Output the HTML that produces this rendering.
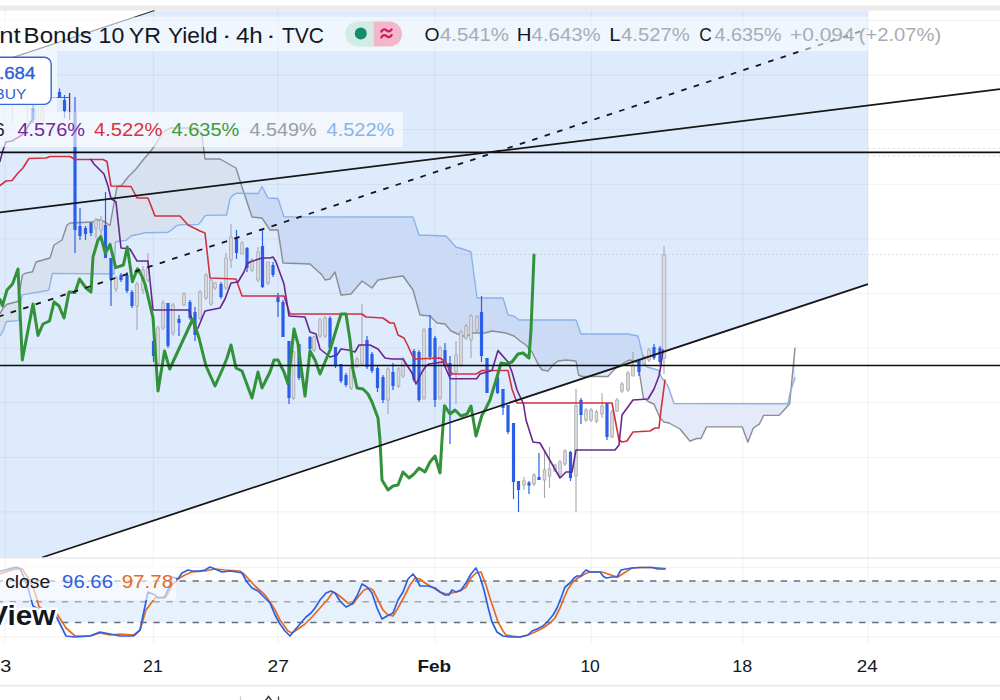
<!DOCTYPE html><html><head><meta charset="utf-8"><style>
html,body{margin:0;padding:0;background:#fff;}
body{width:1000px;height:700px;overflow:hidden;position:relative;font-family:"Liberation Sans",Arial,sans-serif;}
svg{position:absolute;left:0;top:0;display:block}
text{font-family:"Liberation Sans",Arial,sans-serif}
</style></head><body>
<svg width="1000" height="700" viewBox="0 0 1000 700">
<defs>
<clipPath id="pane"><rect x="0" y="10.5" width="1000" height="547.0"/></clipPath>
<clipPath id="aboveL"><polygon points="0,0 0,336 3.4,330 6.4,321.5 18.5,320.6 21.9,294.9 48.9,290.2 52.3,273.4 114,274 115.5,242 120,241 126,240.4 131,236 135,235 145.4,232.8 168.2,232.2 171.8,229.8 176.6,225.6 181.4,224.6 198.2,224.6 200.6,222 205.4,215.4 226.5,215 230,199 233,195 237,193.2 258,193.5 262,186.5 268,198 278,198.5 284,216.8 413,217 419,235 446,236 456,247 466,250 471,252 477,298 503,298 508,315 514,316 519,320 576,320 581,334 628,334 638,336 642,352 644,362 647,367 658,370 662,378 668,386 674,403.5 788,403.8 790,393 795,378 795,0"/></clipPath>
<clipPath id="aboveG"><polygon points="0,0 0,313.7 3.4,307.7 7,304.3 18,301.5 21,283 22.5,275 25,273.4 32.6,271.7 36,262 43,260 50,258 54,245 62,240 67,225 70,223 93,222 96,220 100,220 105,222 110,225.5 114,203 117,187 121.5,185.5 128,177 136,169 143,160 150,152 156,144 162,133 170,128 198,128 202,136 205,159 220,159 236,168 241,184 252,217 262,218 270,230 278,230 283,263 310,264 322,275 325,280 330,279 335,272 341,295 351,294 362,281 372,288 378,280 395,277 403,276 413,290 420,315 430,316 437,323 445,324 451,331 460,335 466,337 472,333 485,333 492,331 506,333 514,336 520,341 526,345 532,352 538,364 542,370 548,371 554,364 558,361 566,360 576,361 578.5,375 582,376.5 608,376.5 612,372 617,367 627,361 630,360 637.8,362.7 643.4,398 649,402 654,404 660,418 664,422 669,423 680,429 690,441.2 696.6,438.5 701,438.5 706.5,426.9 742.3,426.9 747.8,442.3 753.3,428 759.3,424.2 763.7,415.4 779.1,415.4 785.7,408.2 789.6,403.8 795,348 795,0"/></clipPath>
<clipPath id="inchan"><polygon points="0,61.627 868,-225.681 868,284.094 0,571.402"/></clipPath>
<clipPath id="outchan"><polygon points="0,10.5 1000,10.5 1000,557.5 0,557.5 0,571.4 868,284.1 868,-225.7 0,61.6" clip-rule="evenodd"/></clipPath>
</defs>
<rect x="0" y="5.5" width="1000" height="5" fill="#ebebeb"/>
<g clip-path="url(#pane)"><polygon points="0,61.627 868,-225.681 868,284.094 0,571.402" fill="#deebfc"/></g>
<g stroke="#000" stroke-opacity="0.045" stroke-width="1.3">
<line x1="0" y1="20.5" x2="1000" y2="20.5"/>
<line x1="0" y1="75.1" x2="1000" y2="75.1"/>
<line x1="0" y1="129.7" x2="1000" y2="129.7"/>
<line x1="0" y1="184.3" x2="1000" y2="184.3"/>
<line x1="0" y1="238.9" x2="1000" y2="238.9"/>
<line x1="0" y1="293.5" x2="1000" y2="293.5"/>
<line x1="0" y1="348.1" x2="1000" y2="348.1"/>
<line x1="0" y1="402.7" x2="1000" y2="402.7"/>
<line x1="0" y1="457.3" x2="1000" y2="457.3"/>
<line x1="0" y1="511.9" x2="1000" y2="511.9"/>
<line x1="5" y1="10.5" x2="5" y2="643"/>
<line x1="153.5" y1="10.5" x2="153.5" y2="643"/>
<line x1="278" y1="10.5" x2="278" y2="643"/>
<line x1="435" y1="10.5" x2="435" y2="643"/>
<line x1="591.5" y1="10.5" x2="591.5" y2="643"/>
<line x1="743" y1="10.5" x2="743" y2="643"/>
<line x1="868" y1="10.5" x2="868" y2="643"/>
</g>
<g clip-path="url(#pane)">
<g clip-path="url(#aboveL)"><polygon points="0,313.7 3.4,307.7 7,304.3 18,301.5 21,283 22.5,275 25,273.4 32.6,271.7 36,262 43,260 50,258 54,245 62,240 67,225 70,223 93,222 96,220 100,220 105,222 110,225.5 114,203 117,187 121.5,185.5 128,177 136,169 143,160 150,152 156,144 162,133 170,128 198,128 202,136 205,159 220,159 236,168 241,184 252,217 262,218 270,230 278,230 283,263 310,264 322,275 325,280 330,279 335,272 341,295 351,294 362,281 372,288 378,280 395,277 403,276 413,290 420,315 430,316 437,323 445,324 451,331 460,335 466,337 472,333 485,333 492,331 506,333 514,336 520,341 526,345 532,352 538,364 542,370 548,371 554,364 558,361 566,360 576,361 578.5,375 582,376.5 608,376.5 612,372 617,367 627,361 630,360 637.8,362.7 643.4,398 649,402 654,404 660,418 664,422 669,423 680,429 690,441.2 696.6,438.5 701,438.5 706.5,426.9 742.3,426.9 747.8,442.3 753.3,428 759.3,424.2 763.7,415.4 779.1,415.4 785.7,408.2 789.6,403.8 795,348 795,378 790,393 788,403.8 674,403.5 668,386 662,378 658,370 647,367 644,362 642,352 638,336 628,334 581,334 576,320 519,320 514,316 508,315 503,298 477,298 471,252 466,250 456,247 446,236 419,235 413,217 284,216.8 278,198.5 268,198 262,186.5 258,193.5 237,193.2 233,195 230,199 226.5,215 205.4,215.4 200.6,222 198.2,224.6 181.4,224.6 176.6,225.6 171.8,229.8 168.2,232.2 145.4,232.8 135,235 131,236 126,240.4 120,241 115.5,242 114,274 52.3,273.4 48.9,290.2 21.9,294.9 18.5,320.6 6.4,321.5 3.4,330 0,336" fill="#d8e1ef" fill-rule="evenodd"/></g>
<g clip-path="url(#aboveG)"><g clip-path="url(#inchan)"><polygon points="0,313.7 3.4,307.7 7,304.3 18,301.5 21,283 22.5,275 25,273.4 32.6,271.7 36,262 43,260 50,258 54,245 62,240 67,225 70,223 93,222 96,220 100,220 105,222 110,225.5 114,203 117,187 121.5,185.5 128,177 136,169 143,160 150,152 156,144 162,133 170,128 198,128 202,136 205,159 220,159 236,168 241,184 252,217 262,218 270,230 278,230 283,263 310,264 322,275 325,280 330,279 335,272 341,295 351,294 362,281 372,288 378,280 395,277 403,276 413,290 420,315 430,316 437,323 445,324 451,331 460,335 466,337 472,333 485,333 492,331 506,333 514,336 520,341 526,345 532,352 538,364 542,370 548,371 554,364 558,361 566,360 576,361 578.5,375 582,376.5 608,376.5 612,372 617,367 627,361 630,360 637.8,362.7 643.4,398 649,402 654,404 660,418 664,422 669,423 680,429 690,441.2 696.6,438.5 701,438.5 706.5,426.9 742.3,426.9 747.8,442.3 753.3,428 759.3,424.2 763.7,415.4 779.1,415.4 785.7,408.2 789.6,403.8 795,348 795,378 790,393 788,403.8 674,403.5 668,386 662,378 658,370 647,367 644,362 642,352 638,336 628,334 581,334 576,320 519,320 514,316 508,315 503,298 477,298 471,252 466,250 456,247 446,236 419,235 413,217 284,216.8 278,198.5 268,198 262,186.5 258,193.5 237,193.2 233,195 230,199 226.5,215 205.4,215.4 200.6,222 198.2,224.6 181.4,224.6 176.6,225.6 171.8,229.8 168.2,232.2 145.4,232.8 135,235 131,236 126,240.4 120,241 115.5,242 114,274 52.3,273.4 48.9,290.2 21.9,294.9 18.5,320.6 6.4,321.5 3.4,330 0,336" fill="#cbdaf5" fill-rule="evenodd"/></g></g>
<g clip-path="url(#aboveG)"><g clip-path="url(#outchan)"><polygon points="0,313.7 3.4,307.7 7,304.3 18,301.5 21,283 22.5,275 25,273.4 32.6,271.7 36,262 43,260 50,258 54,245 62,240 67,225 70,223 93,222 96,220 100,220 105,222 110,225.5 114,203 117,187 121.5,185.5 128,177 136,169 143,160 150,152 156,144 162,133 170,128 198,128 202,136 205,159 220,159 236,168 241,184 252,217 262,218 270,230 278,230 283,263 310,264 322,275 325,280 330,279 335,272 341,295 351,294 362,281 372,288 378,280 395,277 403,276 413,290 420,315 430,316 437,323 445,324 451,331 460,335 466,337 472,333 485,333 492,331 506,333 514,336 520,341 526,345 532,352 538,364 542,370 548,371 554,364 558,361 566,360 576,361 578.5,375 582,376.5 608,376.5 612,372 617,367 627,361 630,360 637.8,362.7 643.4,398 649,402 654,404 660,418 664,422 669,423 680,429 690,441.2 696.6,438.5 701,438.5 706.5,426.9 742.3,426.9 747.8,442.3 753.3,428 759.3,424.2 763.7,415.4 779.1,415.4 785.7,408.2 789.6,403.8 795,348 795,378 790,393 788,403.8 674,403.5 668,386 662,378 658,370 647,367 644,362 642,352 638,336 628,334 581,334 576,320 519,320 514,316 508,315 503,298 477,298 471,252 466,250 456,247 446,236 419,235 413,217 284,216.8 278,198.5 268,198 262,186.5 258,193.5 237,193.2 233,195 230,199 226.5,215 205.4,215.4 200.6,222 198.2,224.6 181.4,224.6 176.6,225.6 171.8,229.8 168.2,232.2 145.4,232.8 135,235 131,236 126,240.4 120,241 115.5,242 114,274 52.3,273.4 48.9,290.2 21.9,294.9 18.5,320.6 6.4,321.5 3.4,330 0,336" fill="#e4eafa" fill-rule="evenodd"/></g></g>
</g>
<polyline points="0,313.7 3.4,307.7 7,304.3 18,301.5 21,283 22.5,275 25,273.4 32.6,271.7 36,262 43,260 50,258 54,245 62,240 67,225 70,223 93,222 96,220 100,220 105,222 110,225.5 114,203 117,187 121.5,185.5 128,177 136,169 143,160 150,152 156,144 162,133 170,128 198,128 202,136 205,159 220,159 236,168 241,184 252,217 262,218 270,230 278,230 283,263 310,264 322,275 325,280 330,279 335,272 341,295 351,294 362,281 372,288 378,280 395,277 403,276 413,290 420,315 430,316 437,323 445,324 451,331 460,335 466,337 472,333 485,333 492,331 506,333 514,336 520,341 526,345 532,352 538,364 542,370 548,371 554,364 558,361 566,360 576,361 578.5,375 582,376.5 608,376.5 612,372 617,367 627,361 630,360 637.8,362.7 643.4,398 649,402 654,404 660,418 664,422 669,423 680,429 690,441.2 696.6,438.5 701,438.5 706.5,426.9 742.3,426.9 747.8,442.3 753.3,428 759.3,424.2 763.7,415.4 779.1,415.4 785.7,408.2 789.6,403.8 795,348" fill="none" stroke="#8a8d93" stroke-width="1.4" stroke-linejoin="round" stroke-linecap="round" />
<polyline points="0,336 3.4,330 6.4,321.5 18.5,320.6 21.9,294.9 48.9,290.2 52.3,273.4 114,274 115.5,242 120,241 126,240.4 131,236 135,235 145.4,232.8 168.2,232.2 171.8,229.8 176.6,225.6 181.4,224.6 198.2,224.6 200.6,222 205.4,215.4 226.5,215 230,199 233,195 237,193.2 258,193.5 262,186.5 268,198 278,198.5 284,216.8 413,217 419,235 446,236 456,247 466,250 471,252 477,298 503,298 508,315 514,316 519,320 576,320 581,334 628,334 638,336 642,352 644,362 647,367 658,370 662,378 668,386 674,403.5 788,403.8 790,393 795,378" fill="none" stroke="#8cb3e8" stroke-width="1.4" stroke-linejoin="round" stroke-linecap="round" />
<g><line x1="33" y1="105" x2="33" y2="123" stroke="#2a5ee8" stroke-width="1.2"/><rect x="31.4" y="108" width="3.2" height="12" fill="#2a5ee8"/><line x1="12.5" y1="106" x2="12.5" y2="122" stroke="#c4c6cc" stroke-width="1.2"/><line x1="27.5" y1="106" x2="27.5" y2="122" stroke="#c4c6cc" stroke-width="1.2"/><line x1="36" y1="106" x2="36" y2="122" stroke="#c4c6cc" stroke-width="1.2"/><line x1="38.5" y1="106" x2="38.5" y2="122" stroke="#c4c6cc" stroke-width="1.2"/><line x1="41" y1="106" x2="41" y2="122" stroke="#c4c6cc" stroke-width="1.2"/><line x1="43.5" y1="106" x2="43.5" y2="122" stroke="#c4c6cc" stroke-width="1.2"/><line x1="59.5" y1="88.5" x2="59.5" y2="97" stroke="#2a5ee8" stroke-width="1.2"/><rect x="57.9" y="92" width="3.2" height="5" fill="#2a5ee8"/><line x1="64.5" y1="95" x2="64.5" y2="118" stroke="#2a5ee8" stroke-width="1.2"/><rect x="62.9" y="100" width="3.2" height="11" fill="#2a5ee8"/><line x1="75" y1="97" x2="75" y2="253" stroke="#2a5ee8" stroke-width="1.2"/><rect x="73.4" y="112" width="3.2" height="118" fill="#2a5ee8"/><line x1="80" y1="208" x2="80" y2="240" stroke="#2a5ee8" stroke-width="1.2"/><rect x="78.4" y="226" width="3.2" height="10" fill="#2a5ee8"/><line x1="85.5" y1="226" x2="85.5" y2="240" stroke="#2a5ee8" stroke-width="1.2"/><rect x="83.9" y="228" width="3.2" height="6" fill="#2a5ee8"/><line x1="91" y1="222" x2="91" y2="236" stroke="#2a5ee8" stroke-width="1.2"/><rect x="89.4" y="223" width="3.2" height="10" fill="#2a5ee8"/><line x1="96" y1="218" x2="96" y2="238" stroke="#a6a6ab" stroke-width="1.1"/><rect x="94.7" y="220" width="2.6" height="8" fill="#dedee2" stroke="#a6a6ab" stroke-width="0.8"/><line x1="101" y1="216" x2="101" y2="236" stroke="#a6a6ab" stroke-width="1.1"/><rect x="99.7" y="220" width="2.6" height="10" fill="#dedee2" stroke="#a6a6ab" stroke-width="0.8"/><line x1="105.5" y1="192" x2="105.5" y2="258" stroke="#2a5ee8" stroke-width="1.2"/><rect x="103.9" y="225" width="3.2" height="33" fill="#2a5ee8"/><line x1="111" y1="258" x2="111" y2="306" stroke="#2a5ee8" stroke-width="1.2"/><rect x="109.4" y="258" width="3.2" height="21" fill="#2a5ee8"/><line x1="116" y1="276" x2="116" y2="292" stroke="#a6a6ab" stroke-width="1.1"/><rect x="114.7" y="278" width="2.6" height="11" fill="#dedee2" stroke="#a6a6ab" stroke-width="0.8"/><line x1="121" y1="273" x2="121" y2="282" stroke="#2a5ee8" stroke-width="1.2"/><rect x="119.4" y="275" width="3.2" height="5" fill="#2a5ee8"/><line x1="127" y1="272" x2="127" y2="293" stroke="#2a5ee8" stroke-width="1.2"/><rect x="125.4" y="275" width="3.2" height="16" fill="#2a5ee8"/><line x1="132" y1="290" x2="132" y2="308" stroke="#2a5ee8" stroke-width="1.2"/><rect x="130.4" y="292" width="3.2" height="14" fill="#2a5ee8"/><line x1="137" y1="282" x2="137" y2="330" stroke="#a6a6ab" stroke-width="1.1"/><rect x="135.7" y="284" width="2.6" height="22" fill="#dedee2" stroke="#a6a6ab" stroke-width="0.8"/><line x1="143" y1="266" x2="143" y2="294" stroke="#a6a6ab" stroke-width="1.1"/><rect x="141.7" y="270" width="2.6" height="20" fill="#dedee2" stroke="#a6a6ab" stroke-width="0.8"/><line x1="148" y1="253" x2="148" y2="282" stroke="#a6a6ab" stroke-width="1.1"/><rect x="146.7" y="268" width="2.6" height="12" fill="#dedee2" stroke="#a6a6ab" stroke-width="0.8"/><line x1="153.5" y1="316" x2="153.5" y2="362" stroke="#2a5ee8" stroke-width="1.2"/><rect x="151.9" y="341" width="3.2" height="15" fill="#2a5ee8"/><line x1="158" y1="326" x2="158" y2="366" stroke="#a6a6ab" stroke-width="1.1"/><rect x="156.7" y="328" width="2.6" height="36" fill="#dedee2" stroke="#a6a6ab" stroke-width="0.8"/><line x1="163" y1="300" x2="163" y2="330" stroke="#a6a6ab" stroke-width="1.1"/><rect x="161.7" y="303" width="2.6" height="25" fill="#dedee2" stroke="#a6a6ab" stroke-width="0.8"/><line x1="168" y1="303" x2="168" y2="348" stroke="#2a5ee8" stroke-width="1.2"/><rect x="166.4" y="303" width="3.2" height="43" fill="#2a5ee8"/><line x1="173" y1="303" x2="173" y2="336" stroke="#a6a6ab" stroke-width="1.1"/><rect x="171.7" y="305" width="2.6" height="28" fill="#dedee2" stroke="#a6a6ab" stroke-width="0.8"/><line x1="179" y1="315" x2="179" y2="336" stroke="#2a5ee8" stroke-width="1.2"/><rect x="177.4" y="319" width="3.2" height="4" fill="#2a5ee8"/><line x1="184" y1="292" x2="184" y2="306" stroke="#a6a6ab" stroke-width="1.1"/><rect x="182.7" y="294" width="2.6" height="11" fill="#dedee2" stroke="#a6a6ab" stroke-width="0.8"/><line x1="190" y1="300" x2="190" y2="320" stroke="#2a5ee8" stroke-width="1.2"/><rect x="188.4" y="302" width="3.2" height="16" fill="#2a5ee8"/><line x1="195" y1="307" x2="195" y2="341" stroke="#2a5ee8" stroke-width="1.2"/><rect x="193.4" y="312" width="3.2" height="23" fill="#2a5ee8"/><line x1="200" y1="290" x2="200" y2="320" stroke="#a6a6ab" stroke-width="1.1"/><rect x="198.7" y="292" width="2.6" height="26" fill="#dedee2" stroke="#a6a6ab" stroke-width="0.8"/><line x1="206" y1="273" x2="206" y2="300" stroke="#a6a6ab" stroke-width="1.1"/><rect x="204.7" y="275" width="2.6" height="23" fill="#dedee2" stroke="#a6a6ab" stroke-width="0.8"/><line x1="211" y1="278" x2="211" y2="306" stroke="#a6a6ab" stroke-width="1.1"/><rect x="209.7" y="280" width="2.6" height="24" fill="#dedee2" stroke="#a6a6ab" stroke-width="0.8"/><line x1="215" y1="282" x2="215" y2="290" stroke="#a6a6ab" stroke-width="1.1"/><rect x="213.7" y="283" width="2.6" height="5" fill="#dedee2" stroke="#a6a6ab" stroke-width="0.8"/><line x1="221" y1="282" x2="221" y2="299" stroke="#2a5ee8" stroke-width="1.2"/><rect x="219.4" y="284" width="3.2" height="13" fill="#2a5ee8"/><line x1="226" y1="253" x2="226" y2="290" stroke="#a6a6ab" stroke-width="1.1"/><rect x="224.7" y="258" width="2.6" height="30" fill="#dedee2" stroke="#a6a6ab" stroke-width="0.8"/><line x1="231" y1="224" x2="231" y2="268" stroke="#a6a6ab" stroke-width="1.1"/><rect x="229.7" y="237" width="2.6" height="23" fill="#dedee2" stroke="#a6a6ab" stroke-width="0.8"/><line x1="236.5" y1="230" x2="236.5" y2="259" stroke="#2a5ee8" stroke-width="1.2"/><rect x="234.9" y="238" width="3.2" height="15" fill="#2a5ee8"/><line x1="242" y1="241" x2="242" y2="254" stroke="#a6a6ab" stroke-width="1.1"/><rect x="240.7" y="243" width="2.6" height="11" fill="#dedee2" stroke="#a6a6ab" stroke-width="0.8"/><line x1="247" y1="247" x2="247" y2="272" stroke="#2a5ee8" stroke-width="1.2"/><rect x="245.4" y="248" width="3.2" height="20" fill="#2a5ee8"/><line x1="252" y1="258" x2="252" y2="272" stroke="#a6a6ab" stroke-width="1.1"/><rect x="250.7" y="260" width="2.6" height="10" fill="#dedee2" stroke="#a6a6ab" stroke-width="0.8"/><line x1="258" y1="247" x2="258" y2="282" stroke="#a6a6ab" stroke-width="1.1"/><rect x="256.7" y="252" width="2.6" height="28" fill="#dedee2" stroke="#a6a6ab" stroke-width="0.8"/><line x1="262.5" y1="229" x2="262.5" y2="288" stroke="#2a5ee8" stroke-width="1.2"/><rect x="260.9" y="246" width="3.2" height="41" fill="#2a5ee8"/><line x1="268" y1="262" x2="268" y2="285" stroke="#a6a6ab" stroke-width="1.1"/><rect x="266.7" y="262" width="2.6" height="21" fill="#dedee2" stroke="#a6a6ab" stroke-width="0.8"/><line x1="273" y1="262" x2="273" y2="277" stroke="#2a5ee8" stroke-width="1.2"/><rect x="271.4" y="265" width="3.2" height="10" fill="#2a5ee8"/><line x1="278" y1="293" x2="278" y2="317" stroke="#2a5ee8" stroke-width="1.2"/><rect x="276.4" y="297" width="3.2" height="5" fill="#2a5ee8"/><line x1="283" y1="300" x2="283" y2="337" stroke="#2a5ee8" stroke-width="1.2"/><rect x="281.4" y="302" width="3.2" height="35" fill="#2a5ee8"/><line x1="289" y1="341" x2="289" y2="404" stroke="#2a5ee8" stroke-width="1.2"/><rect x="287.4" y="341" width="3.2" height="57" fill="#2a5ee8"/><line x1="293.5" y1="350" x2="293.5" y2="400" stroke="#a6a6ab" stroke-width="1.1"/><rect x="292.2" y="352" width="2.6" height="46" fill="#dedee2" stroke="#a6a6ab" stroke-width="0.8"/><line x1="299" y1="344" x2="299" y2="380" stroke="#2a5ee8" stroke-width="1.2"/><rect x="297.4" y="344" width="3.2" height="34" fill="#2a5ee8"/><line x1="310" y1="336" x2="310" y2="350" stroke="#2a5ee8" stroke-width="1.2"/><rect x="308.4" y="337" width="3.2" height="12" fill="#2a5ee8"/><line x1="314" y1="336" x2="314" y2="352" stroke="#a6a6ab" stroke-width="1.1"/><rect x="312.7" y="337" width="2.6" height="13" fill="#dedee2" stroke="#a6a6ab" stroke-width="0.8"/><line x1="320" y1="318" x2="320" y2="338" stroke="#a6a6ab" stroke-width="1.1"/><rect x="318.7" y="320" width="2.6" height="16" fill="#dedee2" stroke="#a6a6ab" stroke-width="0.8"/><line x1="325" y1="316" x2="325" y2="338" stroke="#a6a6ab" stroke-width="1.1"/><rect x="323.7" y="318" width="2.6" height="18" fill="#dedee2" stroke="#a6a6ab" stroke-width="0.8"/><line x1="330" y1="316" x2="330" y2="350" stroke="#2a5ee8" stroke-width="1.2"/><rect x="328.4" y="318" width="3.2" height="30" fill="#2a5ee8"/><line x1="335.5" y1="347" x2="335.5" y2="368" stroke="#2a5ee8" stroke-width="1.2"/><rect x="333.9" y="347" width="3.2" height="19" fill="#2a5ee8"/><line x1="341" y1="364" x2="341" y2="383" stroke="#2a5ee8" stroke-width="1.2"/><rect x="339.4" y="364" width="3.2" height="17" fill="#2a5ee8"/><line x1="346" y1="373" x2="346" y2="387" stroke="#2a5ee8" stroke-width="1.2"/><rect x="344.4" y="375" width="3.2" height="10" fill="#2a5ee8"/><line x1="351" y1="366" x2="351" y2="390" stroke="#a6a6ab" stroke-width="1.1"/><rect x="349.7" y="368" width="2.6" height="20" fill="#dedee2" stroke="#a6a6ab" stroke-width="0.8"/><line x1="357" y1="357" x2="357" y2="368" stroke="#a6a6ab" stroke-width="1.1"/><rect x="355.7" y="359" width="2.6" height="7" fill="#dedee2" stroke="#a6a6ab" stroke-width="0.8"/><line x1="362" y1="304" x2="362" y2="366" stroke="#a6a6ab" stroke-width="1.1"/><rect x="360.7" y="345" width="2.6" height="19" fill="#dedee2" stroke="#a6a6ab" stroke-width="0.8"/><line x1="367" y1="336" x2="367" y2="369" stroke="#2a5ee8" stroke-width="1.2"/><rect x="365.4" y="340" width="3.2" height="27" fill="#2a5ee8"/><line x1="372" y1="352" x2="372" y2="373" stroke="#2a5ee8" stroke-width="1.2"/><rect x="370.4" y="354" width="3.2" height="17" fill="#2a5ee8"/><line x1="377.5" y1="366" x2="377.5" y2="392" stroke="#2a5ee8" stroke-width="1.2"/><rect x="375.9" y="368" width="3.2" height="20" fill="#2a5ee8"/><line x1="383" y1="375" x2="383" y2="403" stroke="#2a5ee8" stroke-width="1.2"/><rect x="381.4" y="377" width="3.2" height="23" fill="#2a5ee8"/><line x1="388" y1="367" x2="388" y2="414" stroke="#a6a6ab" stroke-width="1.1"/><rect x="386.7" y="369" width="2.6" height="31" fill="#dedee2" stroke="#a6a6ab" stroke-width="0.8"/><line x1="393" y1="363" x2="393" y2="390" stroke="#2a5ee8" stroke-width="1.2"/><rect x="391.4" y="372" width="3.2" height="14" fill="#2a5ee8"/><line x1="398.5" y1="367" x2="398.5" y2="388" stroke="#a6a6ab" stroke-width="1.1"/><rect x="397.2" y="369" width="2.6" height="17" fill="#dedee2" stroke="#a6a6ab" stroke-width="0.8"/><line x1="403" y1="357" x2="403" y2="378" stroke="#a6a6ab" stroke-width="1.1"/><rect x="401.7" y="359" width="2.6" height="17" fill="#dedee2" stroke="#a6a6ab" stroke-width="0.8"/><line x1="414" y1="349" x2="414" y2="382" stroke="#2a5ee8" stroke-width="1.2"/><rect x="412.4" y="351" width="3.2" height="29" fill="#2a5ee8"/><line x1="419" y1="350" x2="419" y2="402" stroke="#2a5ee8" stroke-width="1.2"/><rect x="417.4" y="352" width="3.2" height="48" fill="#2a5ee8"/><line x1="424" y1="328" x2="424" y2="400" stroke="#a6a6ab" stroke-width="1.1"/><rect x="422.7" y="330" width="2.6" height="68" fill="#dedee2" stroke="#a6a6ab" stroke-width="0.8"/><line x1="430" y1="315" x2="430" y2="360" stroke="#2a5ee8" stroke-width="1.2"/><rect x="428.4" y="328" width="3.2" height="29" fill="#2a5ee8"/><line x1="435" y1="336" x2="435" y2="407" stroke="#2a5ee8" stroke-width="1.2"/><rect x="433.4" y="338" width="3.2" height="62" fill="#2a5ee8"/><line x1="440" y1="346" x2="440" y2="400" stroke="#a6a6ab" stroke-width="1.1"/><rect x="438.7" y="348" width="2.6" height="50" fill="#dedee2" stroke="#a6a6ab" stroke-width="0.8"/><line x1="445" y1="343" x2="445" y2="367" stroke="#2a5ee8" stroke-width="1.2"/><rect x="443.4" y="350" width="3.2" height="12" fill="#2a5ee8"/><line x1="450" y1="356" x2="450" y2="444" stroke="#2a5ee8" stroke-width="1.2"/><rect x="448.4" y="363" width="3.2" height="13" fill="#2a5ee8"/><line x1="456" y1="341" x2="456" y2="404" stroke="#a6a6ab" stroke-width="1.1"/><rect x="454.7" y="355" width="2.6" height="17" fill="#dedee2" stroke="#a6a6ab" stroke-width="0.8"/><line x1="461" y1="330" x2="461" y2="367" stroke="#a6a6ab" stroke-width="1.1"/><rect x="459.7" y="332" width="2.6" height="33" fill="#dedee2" stroke="#a6a6ab" stroke-width="0.8"/><line x1="466" y1="324" x2="466" y2="340" stroke="#a6a6ab" stroke-width="1.1"/><rect x="464.7" y="326" width="2.6" height="12" fill="#dedee2" stroke="#a6a6ab" stroke-width="0.8"/><line x1="471" y1="314" x2="471" y2="358" stroke="#a6a6ab" stroke-width="1.1"/><rect x="469.7" y="316" width="2.6" height="24" fill="#dedee2" stroke="#a6a6ab" stroke-width="0.8"/><line x1="477" y1="315" x2="477" y2="332" stroke="#a6a6ab" stroke-width="1.1"/><rect x="475.7" y="317" width="2.6" height="13" fill="#dedee2" stroke="#a6a6ab" stroke-width="0.8"/><line x1="481.5" y1="296" x2="481.5" y2="362" stroke="#2a5ee8" stroke-width="1.2"/><rect x="479.9" y="312" width="3.2" height="44" fill="#2a5ee8"/><line x1="487" y1="358" x2="487" y2="393" stroke="#2a5ee8" stroke-width="1.2"/><rect x="485.4" y="358" width="3.2" height="35" fill="#2a5ee8"/><line x1="497.5" y1="375" x2="497.5" y2="394" stroke="#2a5ee8" stroke-width="1.2"/><rect x="495.9" y="377" width="3.2" height="16" fill="#2a5ee8"/><line x1="503" y1="389" x2="503" y2="415" stroke="#2a5ee8" stroke-width="1.2"/><rect x="501.4" y="389" width="3.2" height="19" fill="#2a5ee8"/><line x1="508" y1="405" x2="508" y2="434" stroke="#2a5ee8" stroke-width="1.2"/><rect x="506.4" y="405" width="3.2" height="27" fill="#2a5ee8"/><line x1="513.5" y1="423" x2="513.5" y2="499" stroke="#2a5ee8" stroke-width="1.2"/><rect x="511.9" y="423" width="3.2" height="59" fill="#2a5ee8"/><line x1="518.5" y1="481" x2="518.5" y2="512" stroke="#2a5ee8" stroke-width="1.2"/><rect x="516.9" y="481" width="3.2" height="9" fill="#2a5ee8"/><line x1="524" y1="477" x2="524" y2="490" stroke="#a6a6ab" stroke-width="1.1"/><rect x="522.7" y="481" width="2.6" height="4" fill="#dedee2" stroke="#a6a6ab" stroke-width="0.8"/><line x1="529" y1="481" x2="529" y2="494" stroke="#2a5ee8" stroke-width="1.2"/><rect x="527.4" y="482.5" width="3.2" height="3.0" fill="#2a5ee8"/><line x1="534" y1="473" x2="534" y2="486" stroke="#a6a6ab" stroke-width="1.1"/><rect x="532.7" y="475" width="2.6" height="9" fill="#dedee2" stroke="#a6a6ab" stroke-width="0.8"/><line x1="539" y1="453" x2="539" y2="480" stroke="#2a5ee8" stroke-width="1.2"/><rect x="537.4" y="477" width="3.2" height="3" fill="#2a5ee8"/><line x1="544.5" y1="452" x2="544.5" y2="498" stroke="#a6a6ab" stroke-width="1.1"/><rect x="543.2" y="470" width="2.6" height="10" fill="#dedee2" stroke="#a6a6ab" stroke-width="0.8"/><line x1="549.5" y1="447" x2="549.5" y2="488" stroke="#a6a6ab" stroke-width="1.1"/><rect x="548.2" y="469" width="2.6" height="7" fill="#dedee2" stroke="#a6a6ab" stroke-width="0.8"/><line x1="555" y1="464" x2="555" y2="472" stroke="#a6a6ab" stroke-width="1.1"/><rect x="553.7" y="465" width="2.6" height="6" fill="#dedee2" stroke="#a6a6ab" stroke-width="0.8"/><line x1="560" y1="460" x2="560" y2="476" stroke="#a6a6ab" stroke-width="1.1"/><rect x="558.7" y="462" width="2.6" height="12" fill="#dedee2" stroke="#a6a6ab" stroke-width="0.8"/><line x1="565" y1="449" x2="565" y2="466" stroke="#a6a6ab" stroke-width="1.1"/><rect x="563.7" y="451" width="2.6" height="13" fill="#dedee2" stroke="#a6a6ab" stroke-width="0.8"/><line x1="570.5" y1="451" x2="570.5" y2="481" stroke="#2a5ee8" stroke-width="1.2"/><rect x="568.9" y="452" width="3.2" height="26" fill="#2a5ee8"/><line x1="576" y1="389" x2="576" y2="512" stroke="#a6a6ab" stroke-width="1.1"/><rect x="574.7" y="406" width="2.6" height="70" fill="#dedee2" stroke="#a6a6ab" stroke-width="0.8"/><line x1="581" y1="398" x2="581" y2="424" stroke="#2a5ee8" stroke-width="1.2"/><rect x="579.4" y="400" width="3.2" height="15" fill="#2a5ee8"/><line x1="586" y1="408" x2="586" y2="422" stroke="#a6a6ab" stroke-width="1.1"/><rect x="584.7" y="410" width="2.6" height="10" fill="#dedee2" stroke="#a6a6ab" stroke-width="0.8"/><line x1="591" y1="408" x2="591" y2="422" stroke="#a6a6ab" stroke-width="1.1"/><rect x="589.7" y="410" width="2.6" height="10" fill="#dedee2" stroke="#a6a6ab" stroke-width="0.8"/><line x1="596.5" y1="410" x2="596.5" y2="423" stroke="#a6a6ab" stroke-width="1.1"/><rect x="595.2" y="412" width="2.6" height="9" fill="#dedee2" stroke="#a6a6ab" stroke-width="0.8"/><line x1="602" y1="393" x2="602" y2="418" stroke="#a6a6ab" stroke-width="1.1"/><rect x="600.7" y="406" width="2.6" height="8" fill="#dedee2" stroke="#a6a6ab" stroke-width="0.8"/><line x1="607" y1="403" x2="607" y2="440" stroke="#2a5ee8" stroke-width="1.2"/><rect x="605.4" y="403" width="3.2" height="34" fill="#2a5ee8"/><line x1="612" y1="410" x2="612" y2="438" stroke="#a6a6ab" stroke-width="1.1"/><rect x="610.7" y="412" width="2.6" height="25" fill="#dedee2" stroke="#a6a6ab" stroke-width="0.8"/><line x1="617" y1="398" x2="617" y2="412" stroke="#a6a6ab" stroke-width="1.1"/><rect x="615.7" y="400" width="2.6" height="11" fill="#dedee2" stroke="#a6a6ab" stroke-width="0.8"/><line x1="622" y1="382" x2="622" y2="393" stroke="#a6a6ab" stroke-width="1.1"/><rect x="620.7" y="384" width="2.6" height="7" fill="#dedee2" stroke="#a6a6ab" stroke-width="0.8"/><line x1="628" y1="371" x2="628" y2="392" stroke="#a6a6ab" stroke-width="1.1"/><rect x="626.7" y="373" width="2.6" height="17" fill="#dedee2" stroke="#a6a6ab" stroke-width="0.8"/><line x1="633" y1="352" x2="633" y2="376" stroke="#a6a6ab" stroke-width="1.1"/><rect x="631.7" y="365" width="2.6" height="11" fill="#dedee2" stroke="#a6a6ab" stroke-width="0.8"/><line x1="639" y1="359" x2="639" y2="376" stroke="#2a5ee8" stroke-width="1.2"/><rect x="637.4" y="360" width="3.2" height="12" fill="#2a5ee8"/><line x1="644" y1="355" x2="644" y2="366" stroke="#a6a6ab" stroke-width="1.1"/><rect x="642.7" y="357" width="2.6" height="7" fill="#dedee2" stroke="#a6a6ab" stroke-width="0.8"/><line x1="649" y1="348" x2="649" y2="362" stroke="#a6a6ab" stroke-width="1.1"/><rect x="647.7" y="350" width="2.6" height="10" fill="#dedee2" stroke="#a6a6ab" stroke-width="0.8"/><line x1="654" y1="344" x2="654" y2="360" stroke="#2a5ee8" stroke-width="1.2"/><rect x="652.4" y="347" width="3.2" height="11" fill="#2a5ee8"/><line x1="660" y1="346" x2="660" y2="364" stroke="#2a5ee8" stroke-width="1.2"/><rect x="658.4" y="348" width="3.2" height="14" fill="#2a5ee8"/><line x1="664" y1="246" x2="664" y2="374" stroke="#a6a6ab" stroke-width="1.1"/><rect x="662.2" y="255" width="3.6" height="103" fill="#dedee2" stroke="#a6a6ab" stroke-width="0.8"/></g>
<polyline points="0,185.5 6,181 12,180.5 18,173 23,168 28,160 29,158.5 46,158 50,156.5 70,156.5 75,159.5 103,159.5 107,161.5 111,186 131,186.5 137,198 148,198 155,216 180,216 188,225 200,231 205,233 210,278 236,279 242,296 284,296 290,314 362,314 366,317 383,318 390,323 394,323 398,335 404,338 408,346 412,355 415,359 440,358 446,362 450,372 453,374 476,374 482,370.5 508,370.5 512,389 517,403 612,403 619,440 622,442 627,441 633,432 650,431 655,428 659,428 661,410 665,380" fill="none" stroke="#d2303f" stroke-width="1.6" stroke-linejoin="round" stroke-linecap="round" />
<polyline points="52,97.5 69.5,97.5" fill="none" stroke="#c23a50" stroke-width="1.1" stroke-linejoin="round" stroke-linecap="round" />
<line x1="69.6" y1="93" x2="69.6" y2="120" stroke="#8a2060" stroke-width="1.3"/>
<polyline points="0,161.4 3,150 6,142 12,141 22,135 27,128 32,120" fill="none" stroke="#64288e" stroke-width="1.6" stroke-linejoin="round" stroke-linecap="round" />
<polyline points="91,159.5 94,164 104,174 108,186 111,198.5 116,202 121,248 130,249 137,261 148,261 153,310 189,310 191.5,318 195,329 198,328 205,311 220,308 225,299 231,283 238,282 244,272 247,264 250,262 262,258 270,258 273,257 276,262 284,284 289,316 305,317 310,332 316,334 320,349 330,357 337,355 341,349 348,350 355,352 359,345 370,345 378,349 385,358 392,359 403,359 412,373 416,384 422,372 426,366 429,364 443,362 450.3,378.8 476.6,378.8 480,374 492,370.5 498,350.6 508,362 512,372 517,390 523.5,404 526,420 533,442 540,443 560,478 566,472 572,472 576,450 615,450 619,445 622,415 633,400 648,399 654,389 659,376 661,365 663,350" fill="none" stroke="#64288e" stroke-width="1.6" stroke-linejoin="round" stroke-linecap="round" />
<polyline points="0,299.5 2.4,305.8 7,290 12.5,284 18,269 22.3,360 33,304 38,335.5 43,324 49.5,321 54,302 59,306 64,318 69,292 75,292.5 79.5,279 86,288 91,292 93,257 98,240 100.8,236.7 105.4,253.4 110,244.4 115.7,267.6 123.4,265 127.3,247 132.4,281.7 137.5,268.8 141.4,275 145,284 153,317.7 158,391 164.5,351 169.7,369 192.8,319 199,338 206,366 215,386 223,368 227,358 231,345 236,368 242,371 252,398 258,372 262,388 270,372 274,360 278,360 284,372 288,384 294,329 298,344 305,396 310,351 315,360 320,374 330,350 341,314 346,314 350,340 353,370 357,388 363,389 368,394 372,402 378,418 380,440 382,480 385,485 388,490 393,486 398,485 403,472 409,478 414,474 419,468 425,472 430,462 435,456 440,473 442,440 444.5,405.7 450,414 455,410 461,416 467,414 471,406 476,436 482,415 485,410 490,400 493,390 497,377 501,363 506,364 512,362 518,354 523,353 529,358 531,330 534,255" fill="none" stroke="#32923a" stroke-width="3.0" stroke-linejoin="round" stroke-linecap="round" />
<line x1="868" y1="148.5" x2="1000" y2="148.5" stroke="#9aa3b5" stroke-opacity="0.35" stroke-width="1" stroke-dasharray="2 3"/>
<line x1="868" y1="156" x2="1000" y2="156" stroke="#9aa3b5" stroke-opacity="0.45" stroke-width="1" stroke-dasharray="2 3"/>
<line x1="452" y1="254.5" x2="1000" y2="254.5" stroke="#9aa3b5" stroke-opacity="0.4" stroke-width="1" stroke-dasharray="1.5 2.5"/>
<g stroke="#161616" fill="none">
<line x1="0" y1="152.4" x2="1000" y2="152.4" stroke-width="1.6" stroke="#0c0c0c"/>
<line x1="0" y1="365.5" x2="1000" y2="365.5" stroke-width="1.6" stroke="#0c0c0c"/>
<line x1="0" y1="212.4" x2="1000" y2="89.2" stroke-width="1.7"/>
<line x1="0" y1="61.6" x2="154.5" y2="10.5" stroke-width="1.3" stroke="#333"/>
<line x1="42.0" y1="557.5" x2="868" y2="284.1" stroke-width="1.8"/>
<line x1="0" y1="316.2" x2="868" y2="28.9" stroke-width="1.8" stroke-dasharray="5.6 7.48" stroke-dashoffset="1.81"/>
</g>
<rect x="0" y="16.8" width="868" height="34.2" fill="#fff" fill-opacity="0.55"/>
<rect x="0" y="51" width="57" height="61" fill="#fff" fill-opacity="0.55"/>
<rect x="0" y="112" width="403" height="35" fill="#fff" fill-opacity="0.6"/>
<text x="-0.84" y="42.6" font-size="21.3" fill="#131722" font-weight="normal" textLength="21.44" lengthAdjust="spacingAndGlyphs" >nt</text>
<text x="23.58" y="42.6" font-size="21.3" fill="#131722" font-weight="normal" textLength="68.32" lengthAdjust="spacingAndGlyphs" >Bonds</text>
<text x="98.56" y="42.6" font-size="21.3" fill="#131722" font-weight="normal" textLength="25.70" lengthAdjust="spacingAndGlyphs" >10</text>
<text x="128.76" y="42.6" font-size="21.3" fill="#131722" font-weight="normal" textLength="32.22" lengthAdjust="spacingAndGlyphs" >YR</text>
<text x="167.97" y="42.6" font-size="21.3" fill="#131722" font-weight="normal" textLength="49.59" lengthAdjust="spacingAndGlyphs" >Yield</text>
<text x="221.85" y="42.6" font-size="21.3" fill="#131722" font-weight="normal" textLength="9.80" lengthAdjust="spacingAndGlyphs" >·</text>
<text x="235.93" y="42.6" font-size="21.3" fill="#131722" font-weight="normal" textLength="26.84" lengthAdjust="spacingAndGlyphs" >4h</text>
<text x="266.05" y="42.6" font-size="21.3" fill="#131722" font-weight="normal" textLength="9.80" lengthAdjust="spacingAndGlyphs" >·</text>
<text x="281.90" y="42.6" font-size="21.3" fill="#131722" font-weight="normal" textLength="42.19" lengthAdjust="spacingAndGlyphs" >TVC</text>
<path d="M357.5,21.6 H373.5 V46.4 H357.5 A12.4,12.4 0 0 1 357.5,21.6 Z" fill="#d2ebe5"/>
<path d="M373.5,21.6 H389.6 A12.4,12.4 0 0 1 389.6,46.4 H373.5 Z" fill="#f3b7cc"/>
<circle cx="360.8" cy="33.4" r="6" fill="#128c6d"/>
<g fill="none" stroke="#d41a5c" stroke-width="2.3" stroke-linecap="round"><path d="M381.3,31.6 C383.2,28.6 385.2,29.2 386.6,30.4 C388,31.6 390,32 391.6,29.4"/><path d="M381.3,37.3 C383.2,34.3 385.2,34.9 386.6,36.1 C388,37.3 390,37.7 391.6,35.1"/></g>
<text x="424.46" y="41.1" font-size="18.6" fill="#131722" font-weight="normal" textLength="15.04" lengthAdjust="spacingAndGlyphs" >O</text>
<text x="439.96" y="41.1" font-size="18.6" fill="#a9acb3" font-weight="normal" textLength="68.98" lengthAdjust="spacingAndGlyphs" >4.541%</text>
<text x="516.76" y="41.1" font-size="18.6" fill="#131722" font-weight="normal" textLength="14.72" lengthAdjust="spacingAndGlyphs" >H</text>
<text x="531.56" y="41.1" font-size="18.6" fill="#a9acb3" font-weight="normal" textLength="69.19" lengthAdjust="spacingAndGlyphs" >4.643%</text>
<text x="609.35" y="41.1" font-size="18.6" fill="#131722" font-weight="normal" textLength="11.35" lengthAdjust="spacingAndGlyphs" >L</text>
<text x="621.06" y="41.1" font-size="18.6" fill="#a9acb3" font-weight="normal" textLength="68.68" lengthAdjust="spacingAndGlyphs" >4.527%</text>
<text x="699.16" y="41.1" font-size="18.6" fill="#131722" font-weight="normal" textLength="12.52" lengthAdjust="spacingAndGlyphs" >C</text>
<text x="714.57" y="41.1" font-size="18.6" fill="#a9acb3" font-weight="normal" textLength="67.15" lengthAdjust="spacingAndGlyphs" >4.635%</text>
<text x="789.99" y="41.1" font-size="18.6" fill="#a9acb3" font-weight="normal" textLength="64.58" lengthAdjust="spacingAndGlyphs" >+0.094</text>
<text x="858.81" y="41.1" font-size="18.6" fill="#a9acb3" font-weight="normal" textLength="82.37" lengthAdjust="spacingAndGlyphs" >(+2.07%)</text>
<text x="-4.88" y="135.5" font-size="17.7" fill="#131722" font-weight="normal" textLength="9.60" lengthAdjust="spacingAndGlyphs" >6</text>
<text x="17.45" y="135.5" font-size="17.7" fill="#6f2a97" font-weight="normal" textLength="67.46" lengthAdjust="spacingAndGlyphs" >4.576%</text>
<text x="94.04" y="135.5" font-size="17.7" fill="#d8333f" font-weight="normal" textLength="68.47" lengthAdjust="spacingAndGlyphs" >4.522%</text>
<text x="171.55" y="135.5" font-size="17.7" fill="#3d9a3d" font-weight="normal" textLength="67.86" lengthAdjust="spacingAndGlyphs" >4.635%</text>
<text x="249.55" y="135.5" font-size="17.7" fill="#999ca3" font-weight="normal" textLength="67.15" lengthAdjust="spacingAndGlyphs" >4.549%</text>
<text x="326.55" y="135.5" font-size="17.7" fill="#8ab3e6" font-weight="normal" textLength="67.86" lengthAdjust="spacingAndGlyphs" >4.522%</text>
<rect x="-10" y="57.2" width="61.2" height="47.2" rx="7" ry="7" fill="#fff" stroke="#3565d8" stroke-width="1.4"/>
<text x="-1.07" y="79" font-size="16.8" fill="#2f5fd6" font-weight="normal" textLength="36.41" lengthAdjust="spacingAndGlyphs" stroke="#2f5fd6" stroke-width="0.35">.684</text>
<text x="-5.73" y="99" font-size="15.2" fill="#2f5fd6" font-weight="normal" textLength="32.10" lengthAdjust="spacingAndGlyphs" >BUY</text>
<line x1="0" y1="557.8" x2="1000" y2="557.8" stroke="#e6e6e6" stroke-width="1.3"/>
<rect x="0" y="581" width="1000" height="41.5" fill="#e6f1fc"/>
<g stroke="#000" stroke-opacity="0.045" stroke-width="1.3">
<line x1="0" y1="567.5" x2="1000" y2="567.5"/><line x1="0" y1="637" x2="1000" y2="637"/>
</g>
<g fill="none" stroke-width="1.5">
<line x1="0" y1="581" x2="1000" y2="581" stroke="#6a6d75" stroke-dasharray="6.4 6.67" stroke-dashoffset="3.52"/>
<line x1="0" y1="601.8" x2="1000" y2="601.8" stroke="#a4a7ae" stroke-dasharray="6.4 6.67" stroke-dashoffset="3.52"/>
<line x1="0" y1="622.4" x2="1000" y2="622.4" stroke="#6a6d75" stroke-dasharray="6.4 6.67" stroke-dashoffset="3.52"/>
</g>
<polyline points="0,573.9 5,572.1 13,569.6 19.7,568.3 22.3,569.1 25.7,574.3 29.1,579.4 32.6,586.3 36,595.7 39,606.8 48,611 57,614 66,628 75,636 90,636 100,633 110,635 120,634 135,635 140,630 146,610 155,598 160,597 166,597 172,585 178,579 185,575 192,572 205,571 215,569 225,570 240,571 245,575 255,586 265,595 270,602 275,610 280,620 288,631 292,633 298,629 305,624 312,617 320,608 328,599 333,592 337,594 342,598 348,603 353,604 358,597 364,590 369,588 373,590 378,600 383,610 388,615 393,616 398,608 404,597 410,585 415,578 420,579 425,583 432,587 440,592 446,594 452,593 460,591 466,587 471,578 476,573 481,572 486,585 490,598 494,610 498,622 503,631 506,635 512,636 520,637 528,635 535,632 543,628 550,623 555,618 560,608 564,598 568,589 573,582 578,578 583,575 589,572 596,572 602,572 608,574 614,576 618,577 624,573 632,568 640,567.5 653,567.5 660,568 665,568.5" fill="none" stroke="#e56a25" stroke-width="1.7" stroke-linejoin="round" stroke-linecap="round" />
<polyline points="0,571.3 5,570 13,567.9 18,567.4 20.6,570 23.1,575.1 25.7,582 28.3,588.9 30.8,598.3 33,606 45,613 56.5,617 66,636 75,637 90,636 100,632 110,634 120,636 133,636 140,630 148,592 155,595 158,598 164,598 168,590 172,577 178,579 182,573 188,570 192,571 200,571 205,570 210,567 215,569 222,572 230,571 237,572 242,573 247,582 252,588 258,591 265,598 270,603 275,615 280,624 285,631 290,636 294,631 300,624 306,617 311,613 315,608 320,600 326,593 331,591 335,593 340,601 346,607 352,604 357,596 362,584 367,587 372,593 377,608 382,619 387,616 393,613 398,600 403,592 408,579 413,574 416,578 420,586 428,586 435,588 440,592 445,595 449,595 452,590 456,592 461,590 466,583 471,574 476,568 480,577 484,590 488,607 492,622 497,632 503,636 512,637 520,637 528,635 532,631 537,629 543,626 548,621 553,615 557,608 561,598 565,587 570,583 574,578 577,576 581,576 583,573 586,570 590,572 600,572 603,576 606,578 612,577 617,577 621,570 626,569 632,568 640,567.5 652,567.5 658,569 665,569" fill="none" stroke="#2e5fe0" stroke-width="1.7" stroke-linejoin="round" stroke-linecap="round" />
<rect x="0" y="565.5" width="176" height="34.5" fill="#fff" fill-opacity="0.6"/>
<text x="5.18" y="587.7" font-size="18.8" fill="#131722" font-weight="normal" textLength="45.03" lengthAdjust="spacingAndGlyphs" >close</text>
<text x="62.11" y="587.8" font-size="18.2" fill="#2e5fe0" font-weight="normal" textLength="50.83" lengthAdjust="spacingAndGlyphs" >96.66</text>
<text x="121.70" y="587.8" font-size="18.2" fill="#e56a25" font-weight="normal" textLength="51.46" lengthAdjust="spacingAndGlyphs" >97.78</text>
<text x="-11.71" y="624.5" font-size="28" fill="#131722" font-weight="bold" textLength="67.01" lengthAdjust="spacingAndGlyphs" stroke="#fff" stroke-width="5" stroke-linejoin="round" paint-order="stroke">View</text>
<text x="0.26" y="671.9" font-size="16.1" fill="#131722" font-weight="normal" textLength="11.05" lengthAdjust="spacingAndGlyphs" >3</text>
<text x="143.12" y="671.9" font-size="16.1" fill="#131722" font-weight="normal" textLength="19.66" lengthAdjust="spacingAndGlyphs" >21</text>
<text x="267.55" y="671.9" font-size="16.1" fill="#131722" font-weight="normal" textLength="21.29" lengthAdjust="spacingAndGlyphs" >27</text>
<text x="417.40" y="671.9" font-size="16.1" fill="#131722" font-weight="bold" textLength="33.73" lengthAdjust="spacingAndGlyphs" >Feb</text>
<text x="580.40" y="671.9" font-size="16.1" fill="#131722" font-weight="normal" textLength="19.47" lengthAdjust="spacingAndGlyphs" >10</text>
<text x="732.27" y="671.9" font-size="16.1" fill="#131722" font-weight="normal" textLength="19.91" lengthAdjust="spacingAndGlyphs" >18</text>
<text x="856.87" y="671.9" font-size="16.1" fill="#131722" font-weight="normal" textLength="20.91" lengthAdjust="spacingAndGlyphs" >24</text>
<line x1="0" y1="685.8" x2="1000" y2="685.8" stroke="#e8e8e8" stroke-width="1.6"/>
<line x1="240.5" y1="696.5" x2="240.5" y2="700" stroke="#c8c8c8" stroke-width="1.2"/>
<path d="M265.5,700.5 L268.5,696.5 L271.5,700.5" fill="none" stroke="#333" stroke-width="1.4"/>
<line x1="278.5" y1="696.5" x2="278.5" y2="700" stroke="#444" stroke-width="1.3"/>
</svg></body></html>
